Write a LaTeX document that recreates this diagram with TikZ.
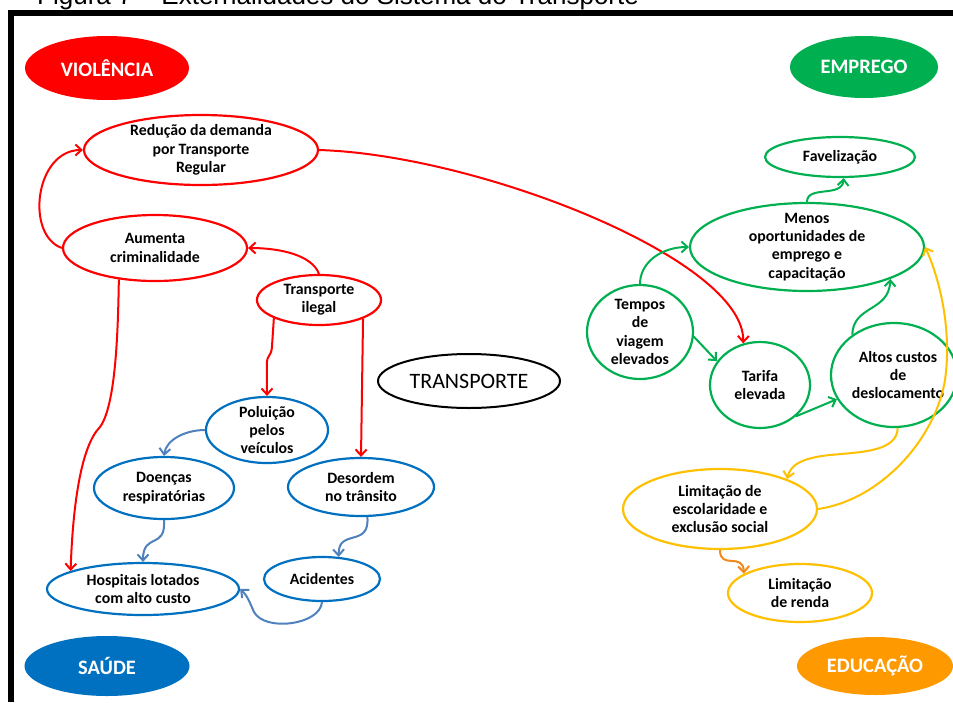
\documentclass[tikz,border=0pt]{standalone}
\usepackage{fontspec}
\setmainfont{Carlito}
\newfontfamily\arialfont{Liberation Sans}
\usetikzlibrary{shapes.geometric,arrows.meta}
\definecolor{cred}{HTML}{FF0000}
\definecolor{cgreen}{HTML}{00B050}
\definecolor{cblue}{HTML}{0070C0}
\definecolor{carrowblue}{HTML}{4F81BD}
\definecolor{cyellow}{HTML}{FFC000}
\definecolor{corange}{HTML}{FF9900}
\definecolor{carroworange}{HTML}{F08A1C}
\tikzset{
  sz/.style 2 args={minimum width=#1pt, minimum height=#2pt},
  bub/.style={ellipse, line width=2.2pt, inner sep=0pt},
  lbl/.style={align=center, inner sep=0pt, text=black, font=\fontsize{15.8}{18.3}\selectfont\bfseries},
  cat/.style={ellipse, inner sep=0pt, text=white, font=\fontsize{20.5}{24}\selectfont\bfseries},
  arr/.style={line width=2pt, -{Straight Barb[length=6pt,width=11pt]}},
}
\begin{document}
\begin{tikzpicture}[x=1pt,y=-1pt]
\useasboundingbox (0,0) rectangle (953,702);
\fill[white] (0,0) rectangle (953,702);
% caption and frame
\node[anchor=base west, inner sep=0pt, font=\arialfont\fontsize{26}{30}\selectfont] (cap) at (37,4) {Figura 7 – Externalidades do Sistema do Transporte};
\draw[line width=6pt, line join=miter] (11,702) -- (11,13) -- (953,13);
% category ellipses
\node[cat, fill=cred, sz={164}{64}] (vio) at (107,68) {VIOLÊNCIA};
\node[cat, fill=cgreen, sz={148}{62}] (emp) at (864,67) {EMPREGO};
\node[cat, fill=cblue, sz={165}{60}] (sau) at (107,666) {SAÚDE};
\node[cat, fill=corange, sz={156}{58}] (edu) at (875,666) {EDUCAÇÃO};
% red
\node[bub, draw=cred, sz={234}{70}, label={[lbl]center:{Redução da demanda\\por Transporte\\Regular}}] (red) at (201,150) {};
\node[bub, draw=cred, sz={184}{66}, label={[lbl]center:{Aumenta\\criminalidade}}] (aum) at (155,248) {};
\node[bub, draw=cred, sz={124}{50}, label={[lbl]center:{Transporte\\ilegal}}] (til) at (319,300) {};
% blue
\node[bub, draw=cblue, sz={122}{66}, label={[lbl]center:{Poluição\\pelos\\veículos}}] (pol) at (267,430) {};
\node[bub, draw=cblue, sz={140}{62}, label={[lbl]center:{Doenças\\respiratórias}}] (doe) at (164,488) {};
\node[bub, draw=cblue, sz={146}{58}, label={[lbl]center:{Desordem\\no trânsito}}] (des) at (361,487) {};
\node[bub, draw=cblue, sz={192}{52}, label={[lbl]center:{Hospitais lotados\\com alto custo}}] (hos) at (143,589) {};
\node[bub, draw=cblue, sz={116}{44}, label={[lbl]center:{Acidentes}}] (aci) at (322,579) {};
% center
\node[ellipse, draw, line width=2pt, sz={182}{54}, inner sep=0pt, font=\fontsize{22}{26}\selectfont] (tra) at (469,381) {TRANSPORTE};
% green
\node[bub, draw=cgreen, sz={150}{40}, label={[lbl]center:{Favelização}}] (fav) at (840,157) {};
\node[bub, draw=cgreen, sz={234}{88}, label={[lbl]center:{Menos\\oportunidades de\\emprego e\\capacitação}}] (men) at (807,247) {};
\node[bub, draw=cgreen, sz={106}{94}, label={[lbl]center:{Tempos\\de\\viagem\\elevados}}] (tem) at (640,332) {};
\node[bub, draw=cgreen, sz={100}{86}, label={[lbl]center:{Tarifa\\elevada}}] (tar) at (760,385) {};
\node[bub, draw=cgreen, sz={126}{104}, label={[lbl, xshift=4pt]center:{Altos custos\\de\\deslocamento}}] (alt) at (894,375) {};
% yellow
\node[bub, draw=cyellow, sz={194}{80}, label={[lbl]center:{Limitação de\\escolaridade e\\exclusão social}}] (lim) at (720,509) {};
\node[bub, draw=cyellow, sz={144}{58}, label={[lbl]center:{Limitação\\de renda}}] (ren) at (800,593) {};
% red connectors
\draw[arr, cred] (aum.west) .. controls (25,235) and (35,150) .. (red.west);
\draw[arr, cred] (til.north) .. controls (312,255) and (280,248) .. (aum.east);
\draw[arr, cred] (til.202) -- ++(-2,30) .. controls ++(0,6) and ++(0,-6) .. ++(-5,14) -- (pol.north);
\draw[arr, cred] (til.-23) -- (des.north);
\draw[arr, cred] (aum.221) .. controls (118,330) and (116,405) .. (100,427) .. controls (82,445) and (73,500) .. (hos.166);
\draw[arr, cred] (red.east) .. controls (480,155) and (745,260) .. (tar.112);
% blue connectors
\draw[arr, carrowblue] (pol.west) .. controls (185,430) and (166,440) .. (doe.north);
\draw[arr, carrowblue] (doe.south) .. controls (166,550) and (143,532) .. (hos.north);
\draw[arr, carrowblue] (des.-78) .. controls (370,548) and (338,528) .. (aci.53);
\draw[arr, carrowblue] (aci.south) .. controls (320,625) and (265,632) .. (254,612) .. controls (250,603) and (247,595) .. (hos.east);
% green connectors
\draw[arr, cgreen] (men.north) .. controls (807,185) and (842,198) .. (fav.-80);
\draw[arr, cgreen] (tem.north) .. controls (640,262) and (662,247) .. (men.west);
\draw[arr, cgreen] (tem.-5) -- (tar.151);
\draw[arr, cgreen] (tar.-41) -- (alt.203);
\draw[arr, cgreen] (alt.136) .. controls (853,305) and (889,312) .. (men.-21);
% yellow / orange connectors
\draw[arr, cyellow] (alt.-86) .. controls (897,452) and (860,452) .. (830,455) .. controls (800,458) and (790,466) .. (lim.24);
\draw[arr, cyellow] (lim.east) .. controls (880,500) and (935,440) .. (945,380) .. controls (952,330) and (940,280) .. (men.east);
\draw[arr, carroworange] (lim.south) .. controls (720,570) and (743,552) .. (ren.161);
\end{tikzpicture}
\end{document}
